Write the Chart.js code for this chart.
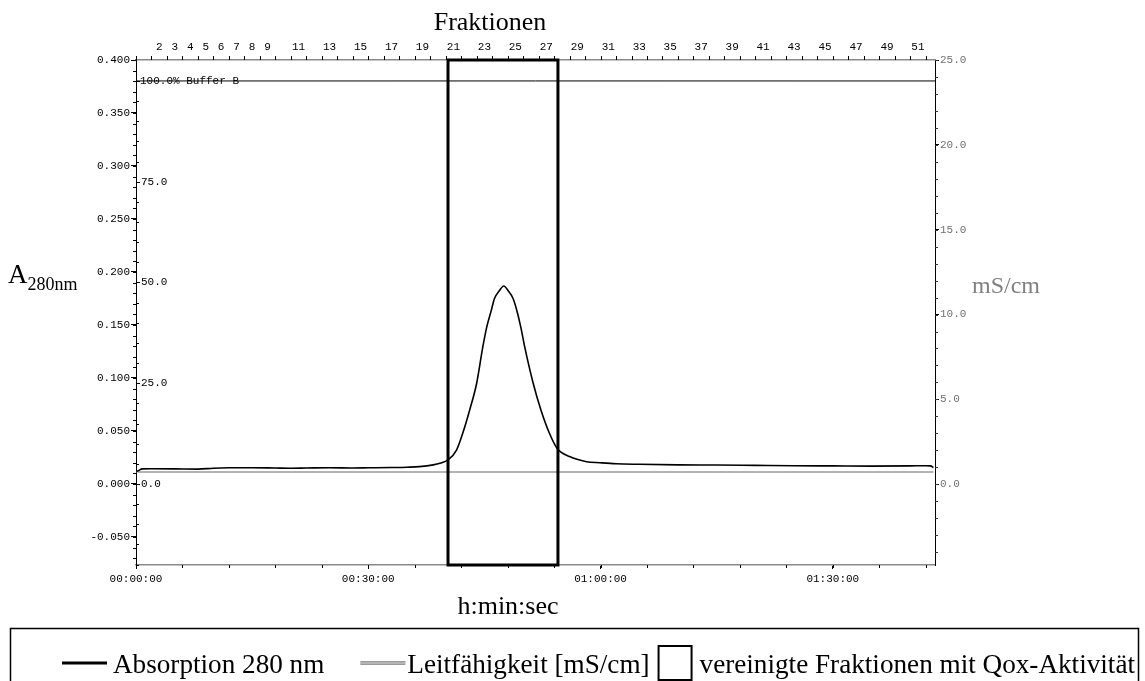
<!DOCTYPE html>
<html><head><meta charset="utf-8">
<script src="https://cdn.jsdelivr.net/npm/chart.js@4.4.1/dist/chart.umd.min.js"></script>
<style>html,body{margin:0;padding:0;background:#fff}#wrap{width:1145px;height:681px;position:relative}</style>
</head><body><div id="wrap"><canvas id="c" width="1145" height="681"></canvas></div>
<script>
// ---- data (time in minutes) ----
const absTime  = [0, 0.3, 0.8, 2, 5, 8, 10, 12, 15, 18, 20, 22, 25, 28, 30, 33, 35, 36.6, 38.4, 39.5, 40.3, 41.4, 42.2, 43.1, 44.0, 44.8, 45.3, 45.9, 46.3, 46.9, 47.5, 48.1, 48.7, 49.1, 49.7, 50.2, 51.3, 52.3, 53.4, 54.4, 56.0, 58.2, 59.9, 62, 65, 70, 75, 80, 85, 90, 95, 100, 102, 102.6, 103.0];
const absValue = [0.012, 0.0125, 0.0142, 0.0143, 0.0142, 0.0140, 0.0148, 0.0152, 0.0153, 0.0150, 0.0148, 0.0150, 0.0153, 0.0150, 0.0152, 0.0155, 0.0158, 0.0163, 0.018, 0.020, 0.0226, 0.032, 0.0478, 0.0698, 0.095, 0.1295, 0.148, 0.164, 0.175, 0.182, 0.1868, 0.182, 0.175, 0.166, 0.148, 0.1295, 0.095, 0.0698, 0.0478, 0.0335, 0.0258, 0.021, 0.020, 0.019, 0.0185, 0.018, 0.0178, 0.0175, 0.0172, 0.017, 0.0168, 0.017, 0.0172, 0.017, 0.0155];
const condTime  = [0, 0.4, 103.0];
const condValue = [0.75, 0.72, 0.72];
const bufferTime  = [0, 103.2];
const bufferValue = [100, 100];
const leftTicks  = [-0.05, 0, 0.05, 0.1, 0.15, 0.2, 0.25, 0.3, 0.35, 0.4];
const rightTicks = [0, 5, 10, 15, 20, 25];
const bufferTicks = [0, 25, 50, 75];
const timeTicks  = [0, 30, 60, 90];
const fracLabels = [2, 3, 4, 5, 6, 7, 8, 9, 11, 13, 15, 17, 19, 21, 23, 25, 27, 29, 31, 33, 35, 37, 39, 41, 43, 45, 47, 49, 51];
const legendLabels = ['Absorption 280 nm', 'Leitfähigkeit [mS/cm]', 'vereinigte Fraktionen mit Qox-Aktivität'];
const pooledFrom = 40.3, pooledTo = 54.5;
const TMAX = 103.2, LMIN = -0.0765, LMAX = 0.4, RMIN = -4.76, RMAX = 25, BMIN = -20.1, BMAX = 105.2;

const MONO = '"Liberation Mono", "DejaVu Sans Mono", monospace';
const SERIF = '"Liberation Serif", "DejaVu Serif", serif';
const pts = (xs, ys) => xs.map((t, i) => ({x: t, y: ys[i]}));
const fmtTime = v => { const h = Math.floor(v / 60), m = Math.round(v % 60); return String(h).padStart(2,'0') + ':' + String(m).padStart(2,'0') + ':00'; };

const decor = {
  id: 'decor',
  afterDraw(chart) {
    const c = chart.ctx, a = chart.chartArea, s = chart.scales;
    c.save();
    c.strokeStyle = '#000'; c.lineWidth = 1;
    const line = (x1, y1, x2, y2) => { c.beginPath(); c.moveTo(x1, y1); c.lineTo(x2, y2); c.stroke(); };
    for (let v = -0.07; v <= 0.4001; v += 0.01) { const y = Math.round(s.y.getPixelForValue(v)) + 0.5; line(a.left - 3, y, a.left, y); }
    c.strokeStyle = '#333';
    for (let v = -4; v <= 25.001; v += 1) { const y = Math.round(s.y2.getPixelForValue(v)) + 0.5; line(a.right, y, a.right + 3, y); }
    c.strokeStyle = '#000';
    for (let v = 0; v <= TMAX; v += 6) { const x = Math.round(s.x.getPixelForValue(v)) + 0.5; line(x, a.bottom, x, a.bottom + 3); }
    for (let v = 0; v <= TMAX; v += 2) { const x = Math.round(s.xF.getPixelForValue(v)) + 0.5; line(x, a.top - 4, x, a.top); }
    for (let v = -20; v <= 100; v += 5) { const y = Math.round(s.yB.getPixelForValue(v)) + 0.5; line(a.left, y, a.left + (v % 25 === 0 ? 4 : 3), y); }
    c.fillStyle = '#000'; c.font = '11px ' + MONO; c.textBaseline = 'middle'; c.textAlign = 'left';
    bufferTicks.forEach(v => c.fillText(v.toFixed(1), a.left + 5, s.yB.getPixelForValue(v)));
    c.fillText('100.0% Buffer B', a.left + 4, s.yB.getPixelForValue(100) + 0.5);
    // pooled fractions rectangle
    c.lineWidth = 3;
    const x1 = s.x.getPixelForValue(pooledFrom), x2 = s.x.getPixelForValue(pooledTo);
    c.strokeRect(x1, a.top, x2 - x1, a.bottom - a.top);
    // titles
    c.textBaseline = 'alphabetic';
    c.font = '26px ' + SERIF; c.textAlign = 'center';
    c.fillText('Fraktionen', 490, 30);
    c.fillText('h:min:sec', 508, 614);
    c.textAlign = 'left';
    c.font = '27px ' + SERIF; c.fillText('A', 8, 283);
    const wA = c.measureText('A').width;
    c.font = '18px ' + SERIF; c.fillText('280nm', 8 + wA, 290);
    c.fillStyle = '#808080'; c.font = '24px ' + SERIF; c.fillText('mS/cm', 972, 293);
    // legend: uniform font, flow layout scaled to end at the right border
    c.fillStyle = '#000'; c.strokeStyle = '#000'; c.lineWidth = 1.5;
    c.strokeRect(10.5, 628.5, 1128, 60);
    c.font = '28px ' + SERIF;
    const ly = 663, tb = 673;
    const w = legendLabels.map(t => c.measureText(t).width);
    const fixed = 51 + 36 + 47 + 9 + 33 + 8;
    const k = Math.min(1, (1135 - 62 - fixed) / (w[0] + w[1] + w[2]));
    const put = (t, x, ww) => { c.save(); c.translate(x, tb); c.scale(k, 1); c.fillText(t, 0, 0); c.restore(); return x + ww * k; };
    let x = 62;
    c.lineWidth = 3; line(x, ly, x + 45, ly); x += 51;
    x = put(legendLabels[0], x, w[0]) + 36;
    c.strokeStyle = '#9a9a9a'; c.lineWidth = 4; line(x, ly, x + 45, ly);
    c.strokeStyle = '#d0d0d0'; c.lineWidth = 1; line(x, ly, x + 45, ly); x += 47;
    x = put(legendLabels[1], x, w[1]) + 9;
    c.strokeStyle = '#000'; c.lineWidth = 2; c.strokeRect(x, 646, 33, 34); x += 41;
    put(legendLabels[2], x, w[2]);
    c.restore();
  }
};

const tickFont = {family: MONO, size: 11};
new Chart(document.getElementById('c'), {
  type: 'line',
  data: { datasets: [
    { label: legendLabels[0], data: pts(absTime, absValue), xAxisID: 'x', yAxisID: 'y', borderColor: '#000', borderWidth: 1.6, pointRadius: 0, cubicInterpolationMode: 'monotone' },
    { label: legendLabels[1], data: pts(condTime, condValue), xAxisID: 'x', yAxisID: 'y2', borderColor: '#9a9a9a', borderWidth: 1.5, pointRadius: 0 },
    { label: '100.0% Buffer B', data: pts(bufferTime, bufferValue), xAxisID: 'x', yAxisID: 'yB', borderColor: '#000', borderWidth: 1, pointRadius: 0 }
  ]},
  options: {
    responsive: false, animation: false, layout: { padding: 0 },
    plugins: { legend: { display: false }, tooltip: { enabled: false } },
    scales: {
      x: { type: 'linear', position: 'bottom', min: 0, max: TMAX,
        afterBuildTicks: sc => { sc.ticks = timeTicks.map(v => ({value: v})); },
        ticks: { callback: v => fmtTime(v), font: tickFont, color: '#000', padding: 3, maxRotation: 0, autoSkip: false },
        grid: { drawOnChartArea: false, tickLength: 4, color: '#000' },
        border: { color: '#8a8a8a', width: 1.5 },
        afterFit: sc => { sc.height = 116; } },
      xF: { type: 'linear', position: 'top', min: 0, max: TMAX,
        afterBuildTicks: sc => { sc.ticks = fracLabels.map(n => ({value: 2 * n - 1})); },
        ticks: { callback: v => String(Math.round((v + 1) / 2)), font: tickFont, color: '#000', padding: 6, maxRotation: 0, autoSkip: false },
        grid: { drawOnChartArea: false, drawTicks: false },
        border: { color: '#8a8a8a', width: 1.5 },
        afterFit: sc => { sc.height = 60; } },
      y: { position: 'left', min: LMIN, max: LMAX,
        afterBuildTicks: sc => { sc.ticks = leftTicks.map(v => ({value: v})); },
        ticks: { callback: v => v.toFixed(3), font: tickFont, color: '#000', padding: 1, autoSkip: false },
        grid: { drawOnChartArea: false, tickLength: 5, color: '#000' },
        border: { color: '#000', width: 1 },
        afterFit: sc => { sc.width = 136; } },
      y2: { position: 'right', min: RMIN, max: RMAX,
        afterBuildTicks: sc => { sc.ticks = rightTicks.map(v => ({value: v})); },
        ticks: { callback: v => v.toFixed(1), font: tickFont, color: '#707070', padding: 1, autoSkip: false },
        grid: { drawOnChartArea: false, tickLength: 4, color: '#000' },
        border: { color: '#000', width: 1 },
        afterFit: sc => { sc.width = 210; } },
      yB: { display: false, min: BMIN, max: BMAX }
    }
  },
  plugins: [decor]
});
</script></body></html>
